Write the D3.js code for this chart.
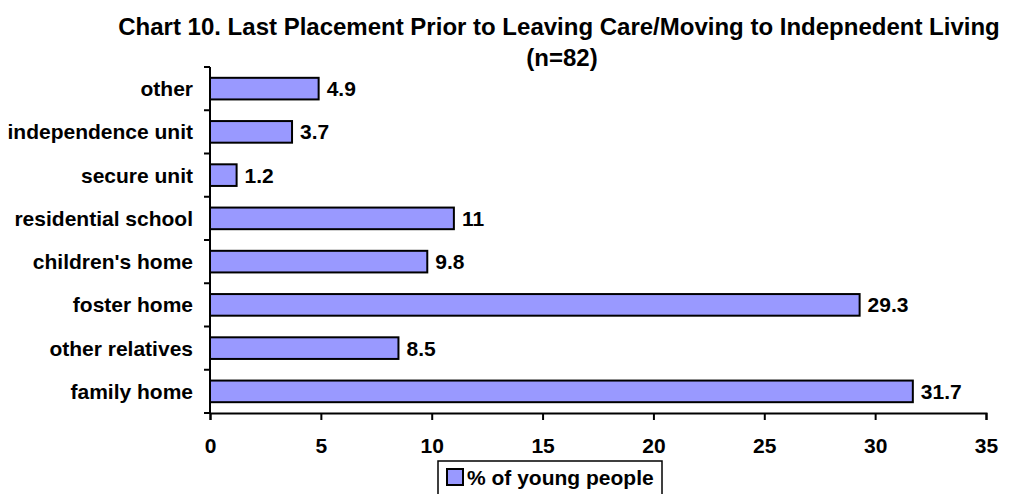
<!DOCTYPE html>
<html>
<head>
<meta charset="utf-8">
<script src="https://cdn.jsdelivr.net/npm/d3@7"></script>
<style>
  body { margin: 0; background: #fff; }
  svg text { font-family: "Liberation Sans", Arial, sans-serif; font-weight: bold; fill: #000; }
</style>
</head>
<body>
<div id="chart"></div>
<script>
// Chart data (top to bottom as drawn)
const categories = ['other', 'independence unit', 'secure unit', 'residential school',
    "children's home", 'foster home', 'other relatives', 'family home'];
const values = [4.9, 3.7, 1.2, 11, 9.8, 29.3, 8.5, 31.7];
const valueLabels = ['4.9', '3.7', '1.2', '11', '9.8', '29.3', '8.5', '31.7'];
const xTicks = [0, 5, 10, 15, 20, 25, 30, 35];
const seriesName = '% of young people';

const width = 1013, height = 494;
const margin = { top: 67, right: 27, bottom: 81, left: 210 };
const fontFamily = '"Liberation Sans", Arial, sans-serif';

const svg = d3.select('#chart').append('svg')
    .attr('width', width)
    .attr('height', height);

// Title (two lines)
const title = svg.append('text')
    .attr('x', 559)
    .attr('y', 35)
    .attr('text-anchor', 'middle')
    .attr('font-size', '24px');
title.append('tspan').attr('x', 559).text('Chart 10. Last Placement Prior to Leaving Care/Moving to Indepnedent Living');
title.append('tspan').attr('x', 562).attr('dy', 31).text('(n=82)');

const x = d3.scaleLinear()
    .domain([0, 35])
    .range([margin.left, width - margin.right]);

const y = d3.scaleBand()
    .domain(categories)
    .range([margin.top, height - margin.bottom])
    .paddingInner(0.5)
    .paddingOuter(0.25);

// Bars
svg.selectAll('.bar')
    .data(values)
    .enter()
    .append('rect')
    .attr('class', 'bar')
    .attr('x', x(0))
    .attr('y', (d, i) => y(categories[i]))
    .attr('width', d => x(d) - x(0))
    .attr('height', y.bandwidth())
    .attr('fill', '#9999ff')
    .attr('stroke', '#000')
    .attr('stroke-width', 2);

// Value labels
svg.selectAll('.val')
    .data(values)
    .enter()
    .append('text')
    .attr('class', 'val')
    .attr('x', d => x(d) + 8)
    .attr('y', (d, i) => y(categories[i]) + y.bandwidth() / 2)
    .attr('dy', '0.36em')
    .attr('font-size', '21px')
    .text((d, i) => valueLabels[i]);

// X axis
const xAxis = svg.append('g')
    .attr('transform', `translate(0, ${height - margin.bottom})`)
    .call(d3.axisBottom(x).tickValues(xTicks).tickSize(7).tickPadding(18).tickFormat(d3.format('d')));
xAxis.selectAll('text')
    .attr('font-size', '21px')
    .attr('font-family', fontFamily)
    .attr('font-weight', 'bold');
xAxis.select('.domain').attr('stroke', '#000').attr('stroke-width', 2);
xAxis.selectAll('.tick line').attr('stroke', '#000').attr('stroke-width', 2);

// Y axis: ticks sit on the band boundaries
const yBounds = d3.range(categories.length + 1)
    .map(i => margin.top + i * (height - margin.top - margin.bottom) / categories.length);
const yAxis = svg.append('g');
yAxis.append('line')
    .attr('x1', x(0)).attr('x2', x(0))
    .attr('y1', margin.top).attr('y2', height - margin.bottom)
    .attr('stroke', '#000').attr('stroke-width', 2);
yAxis.selectAll('.ytick')
    .data(yBounds)
    .enter()
    .append('line')
    .attr('x1', x(0) - 6).attr('x2', x(0))
    .attr('y1', d => d).attr('y2', d => d)
    .attr('stroke', '#000').attr('stroke-width', 2);
yAxis.selectAll('.ylab')
    .data(categories)
    .enter()
    .append('text')
    .attr('x', x(0) - 17)
    .attr('y', d => y(d) + y.bandwidth() / 2)
    .attr('dy', '0.36em')
    .attr('text-anchor', 'end')
    .attr('font-size', '21px')
    .text(d => d);

// Legend
const legend = svg.append('g').attr('transform', 'translate(438, 461)');
legend.append('rect')
    .attr('width', 224).attr('height', 40)
    .attr('fill', '#fff').attr('stroke', '#000').attr('stroke-width', 1.5);
legend.append('rect')
    .attr('x', 9).attr('y', 8).attr('width', 16).attr('height', 16)
    .attr('fill', '#9999ff').attr('stroke', '#000').attr('stroke-width', 2);
legend.append('text')
    .attr('x', 29).attr('y', 24)
    .attr('font-size', '21px')
    .text(seriesName);
</script>
</body>
</html>
